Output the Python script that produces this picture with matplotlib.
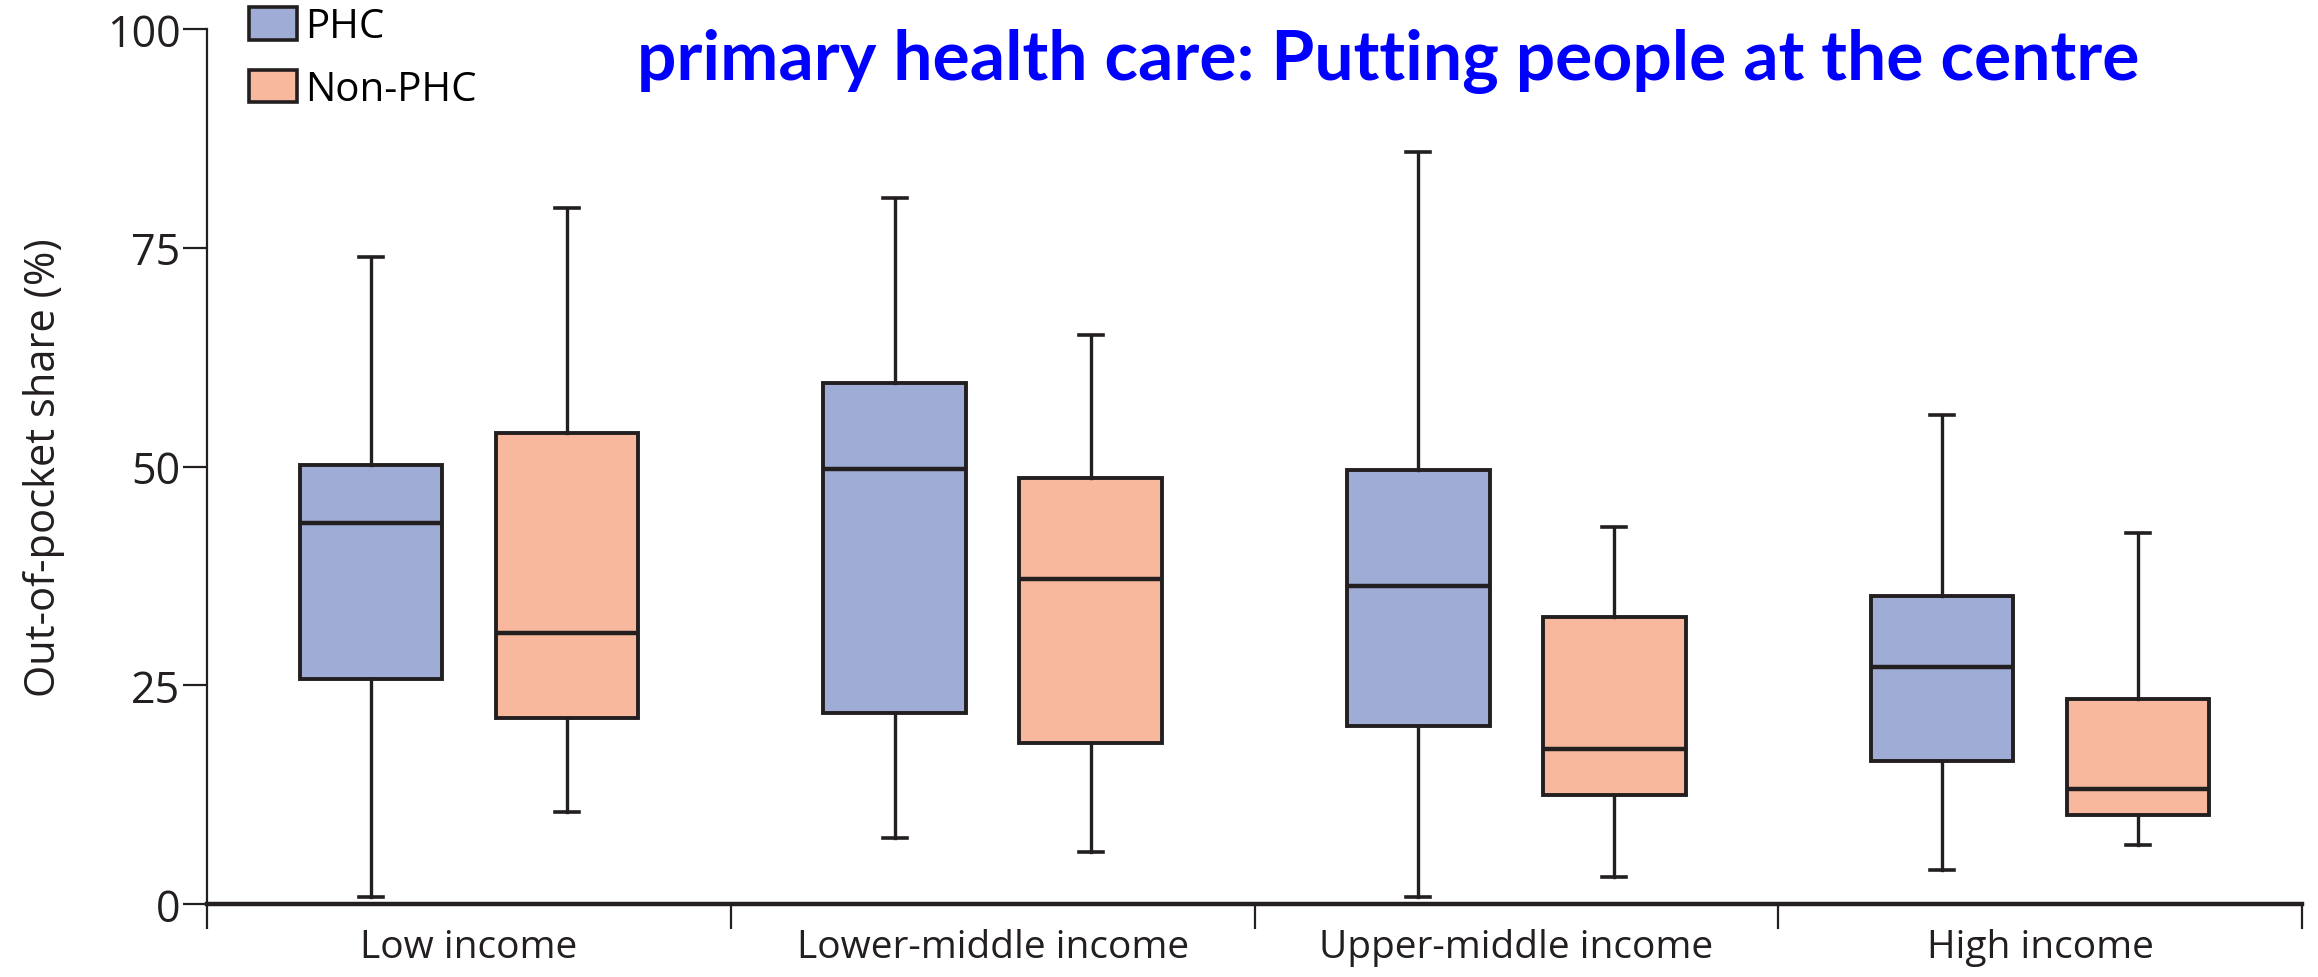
import matplotlib.pyplot as plt
from matplotlib.patches import Patch

# box statistics (out-of-pocket share, %)
categories = ["Low income", "Lower-middle income", "Upper-middle income", "High income"]
series = ["PHC", "Non-PHC"]

phc_low = [0.8, 7.5, 0.8, 3.9]
phc_q1 = [25.7, 21.8, 20.3, 16.4]
phc_med = [43.5, 49.7, 36.3, 27.1]
phc_q3 = [50.2, 59.6, 49.6, 35.2]
phc_high = [74.0, 80.7, 85.9, 55.9]

non_low = [10.5, 6.0, 3.1, 6.8]
non_q1 = [21.3, 18.4, 12.5, 10.2]
non_med = [31.0, 37.2, 17.7, 13.1]
non_q3 = [53.8, 48.7, 32.8, 23.4]
non_high = [79.6, 65.0, 43.1, 42.4]

INK = '#231F20'
COLORS = ['#9FACD5', '#F8B89D']
FONT = ['Open Sans', 'DejaVu Sans']

fig = plt.figure(figsize=(23.18, 9.78), dpi=100, facecolor='white')
ax = fig.add_axes([207 / 2318, 1 - 905 / 978, (2302 - 207) / 2318, 875 / 978])


def make_stats(low, q1, med, q3, high):
    return [dict(whislo=a, q1=b, med=c, q3=d, whishi=e, fliers=[])
            for a, b, c, d, e in zip(low, q1, med, q3, high)]


groups = [make_stats(phc_low, phc_q1, phc_med, phc_q3, phc_high),
          make_stats(non_low, non_q1, non_med, non_q3, non_high)]
offsets = [-0.187, 0.187]

for stats, off, col in zip(groups, offsets, COLORS):
    pos = [i + off for i in range(len(categories))]
    ax.bxp(stats, positions=pos, widths=0.272, capwidths=0.046,
           showfliers=False, patch_artist=True,
           boxprops=dict(facecolor=col, edgecolor=INK, linewidth=2.8),
           medianprops=dict(color=INK, linewidth=3.2),
           whiskerprops=dict(color=INK, linewidth=2.4),
           capprops=dict(color=INK, linewidth=2.6),
           manage_ticks=False, zorder=3)

ax.set_xlim(-0.5, len(categories) - 0.5)
ax.set_ylim(0, 100)

# spines
for s in ['top', 'right']:
    ax.spines[s].set_visible(False)
ax.spines['left'].set_linewidth(1.6)
ax.spines['left'].set_color(INK)
ax.spines['bottom'].set_linewidth(3.2)
ax.spines['bottom'].set_color(INK)

# y axis
ax.set_yticks([0, 25, 50, 75, 100])
ax.tick_params(axis='y', direction='out', length=17, width=1.6, color=INK,
               pad=2, labelsize=31, labelcolor=INK)

# x axis: boundary ticks, labels in the middle
ax.set_xticks([i - 0.5 for i in range(len(categories) + 1)])
ax.set_xticklabels([])
ax.tick_params(axis='x', which='major', direction='out', length=18, width=1.6, color=INK)
ax.set_xticks(range(len(categories)), minor=True)
ax.set_xticklabels(categories, minor=True)
ax.tick_params(axis='x', which='minor', length=0, pad=17, labelsize=28, labelcolor=INK)

for lab in ax.get_xticklabels(minor=True) + ax.get_yticklabels():
    lab.set_family(FONT)

ax.set_ylabel("Out-of-pocket share (%)", fontsize=30, color=INK, family=FONT)
ax.yaxis.set_label_coords(-0.068, (905 - 468) / 875)

# legend
handles = [Patch(facecolor=c, edgecolor=INK, linewidth=2.6, label=s) for c, s in zip(COLORS, series)]
fig.legend(handles=handles, loc='upper left', bbox_to_anchor=(249 / 2318, 1 - 8 / 978),
           frameon=False, borderpad=0, borderaxespad=0, handlelength=1.2, handleheight=0.85,
           handletextpad=0.2, labelspacing=0.55, prop=dict(family=FONT, size=29))

# overlay title text
fig.text(1388 / 2318, 1 - 80 / 978, "primary health care: Putting people at the centre",
         ha='center', va='baseline', fontsize=50, fontweight='bold', color='#0000FF',
         family=['Lato', 'DejaVu Sans'])

plt.savefig('out.png', dpi=100, facecolor='white')
